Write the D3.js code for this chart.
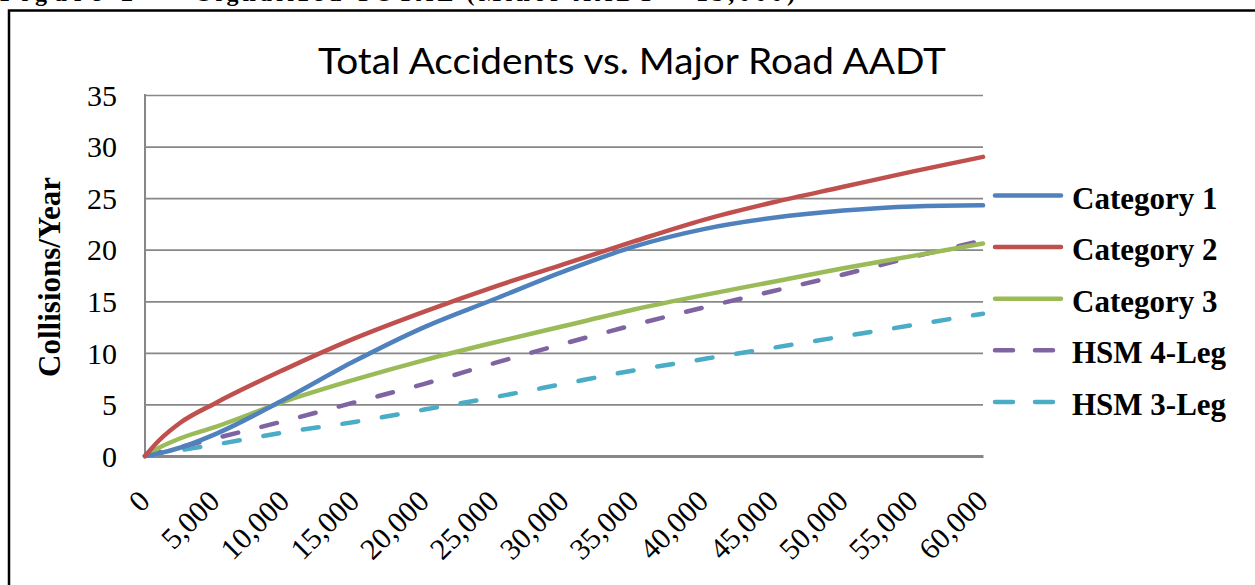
<!DOCTYPE html>
<html lang="en">
<head>
<meta charset="UTF-8">
<title>Total Accidents vs. Major Road AADT</title>
<script src="https://cdnjs.cloudflare.com/ajax/libs/d3/7.8.5/d3.min.js"></script>
<style>
  body { margin: 0; background: #fff; }
  svg { display: block; }
</style>
</head>
<body>
<div id="chart"></div>
<script>
// major road AADT (x) and collisions/year for each curve
const aadt = [0, 1000, 2500, 5000, 10000, 15000, 20000, 25000, 30000, 35000, 40000, 45000, 50000, 55000, 60000];
const category1 = [0, 0.25, 0.8, 2.1, 5.5, 9.2, 12.5, 15.2, 17.9, 20.3, 22.0, 23.1, 23.8, 24.2, 24.3];
const category2 = [0, 1.5, 3.2, 5.1, 8.4, 11.4, 14.0, 16.4, 18.6, 20.8, 22.9, 24.6, 26.1, 27.6, 29.0];
const category3 = [0, 0.8, 1.7, 2.8, 5.3, 7.4, 9.3, 11.0, 12.6, 14.2, 15.6, 16.9, 18.2, 19.4, 20.6];
const hsm4leg = [0, 0.35, 0.85, 1.7, 3.4, 5.2, 7.0, 9.0, 10.9, 12.7, 14.4, 16.0, 17.6, 19.3, 20.9];
const hsm3leg = [0, 0.22, 0.55, 1.1, 2.3, 3.3, 4.5, 5.7, 7.0, 8.3, 9.4, 10.5, 11.6, 12.7, 13.8];
const seriesNames = ["Category 1", "Category 2", "Category 3", "HSM 4-Leg", "HSM 3-Leg"];
const seriesValues = [category1, category2, category3, hsm4leg, hsm3leg];
const seriesColors = ["#4F81BD", "#C0504D", "#9BBB59", "#8064A2", "#4BACC6"];
const seriesDashed = [false, false, false, true, true];
const yTicks = [0, 5, 10, 15, 20, 25, 30, 35];
const xTicks = [0, 5000, 10000, 15000, 20000, 25000, 30000, 35000, 40000, 45000, 50000, 55000, 60000];

const W = 1255, H = 585;
const svg = d3.select("#chart").append("svg")
  .attr("width", W).attr("height", H);

svg.append("rect").attr("width", W).attr("height", H).attr("fill", "#fff");

// page caption above the chart, cut by the top edge as in the scan
svg.append("text")
  .attr("x", 0).attr("y", 1)
  .attr("font-family", "Liberation Serif").attr("font-weight", "bold")
  .attr("font-size", 24).attr("textLength", 133)
  .text("Figure 2");
svg.append("text")
  .attr("x", 198).attr("y", 1)
  .attr("font-family", "Liberation Serif").attr("font-weight", "bold")
  .attr("font-size", 24).attr("textLength", 597)
  .text("Signalized TOTAL (Minor AADT = 15,000)");

// chart frame (right and bottom edges run off the picture)
svg.append("rect")
  .attr("x", 9).attr("y", 10.5)
  .attr("width", 1300).attr("height", 700)
  .attr("fill", "none").attr("stroke", "#000").attr("stroke-width", 2.5);

const x = d3.scaleLinear().domain([0, 60000]).range([145, 983]);
const y = d3.scaleLinear().domain([0, 35]).range([456, 95]);

// title
svg.append("text")
  .attr("x", 632).attr("y", 74)
  .attr("text-anchor", "middle")
  .attr("font-family", "Lato").attr("font-size", 36)
  .attr("textLength", 628).attr("lengthAdjust", "spacingAndGlyphs")
  .attr("fill", "#000")
  .text("Total Accidents vs. Major Road AADT");

// y axis with gridlines
const yAxis = svg.append("g")
  .attr("transform", `translate(${x(0)},0)`)
  .call(d3.axisLeft(y).tickValues(yTicks).tickSize(-(x(60000) - x(0))).tickPadding(28));
yAxis.select(".domain").remove();
yAxis.selectAll(".tick line")
  .attr("stroke", "#878787").attr("stroke-width", 1.7);
yAxis.selectAll(".tick text")
  .attr("font-family", "Liberation Serif").attr("font-size", 30)
  .attr("fill", "#000").attr("dy", "0.34em");

// axis lines
svg.append("line")
  .attr("x1", x(0)).attr("x2", x(0)).attr("y1", y(35) - 1).attr("y2", y(0))
  .attr("stroke", "#878787").attr("stroke-width", 2);

const xAxis = svg.append("g")
  .attr("transform", `translate(0,${y(0)})`)
  .call(d3.axisBottom(x).tickValues(xTicks).tickSize(0).tickFormat(d3.format(",")));
xAxis.select(".domain")
  .attr("stroke", "#878787").attr("stroke-width", 3);
xAxis.selectAll(".tick text")
  .attr("font-family", "Liberation Serif").attr("font-size", 30)
  .attr("fill", "#000")
  .attr("text-anchor", "end")
  .attr("x", 0).attr("y", 0).attr("dy", 0)
  .attr("transform", "translate(6,47) rotate(-45)");

// y axis title
svg.append("text")
  .attr("transform", "translate(60,277) rotate(-90)")
  .attr("text-anchor", "middle")
  .attr("font-family", "Liberation Serif").attr("font-weight", "bold")
  .attr("font-size", 31)
  .text("Collisions/Year");

// series lines
const line = d3.line()
  .x((d, i) => x(aadt[i]))
  .y(d => y(d))
  .curve(d3.curveMonotoneX);

// dashed HSM curves underneath, Category 2 on top
const order = [4, 3, 2, 0, 1];
svg.append("g").selectAll("path")
  .data(order)
  .join("path")
  .attr("d", i => line(seriesValues[i]))
  .attr("fill", "none")
  .attr("stroke", i => seriesColors[i])
  .attr("stroke-width", 4.5)
  .attr("stroke-linecap", "round")
  .attr("stroke-dasharray", i => seriesDashed[i] ? "16,24" : null);

// legend
const legend = svg.append("g").selectAll("g")
  .data(seriesNames)
  .join("g")
  .attr("transform", (d, i) => `translate(993,${195.5 + i * 51.6})`);
legend.append("line")
  .attr("x1", 2).attr("x2", 68)
  .attr("stroke", (d, i) => seriesColors[i])
  .attr("stroke-width", 4.5)
  .attr("stroke-linecap", "round")
  .attr("stroke-dasharray", (d, i) => seriesDashed[i] ? "18,22" : null);
legend.append("text")
  .attr("x", 79).attr("y", 13)
  .attr("font-family", "Liberation Serif").attr("font-weight", "bold")
  .attr("font-size", 31)
  .text(d => d);
</script>
</body>
</html>
